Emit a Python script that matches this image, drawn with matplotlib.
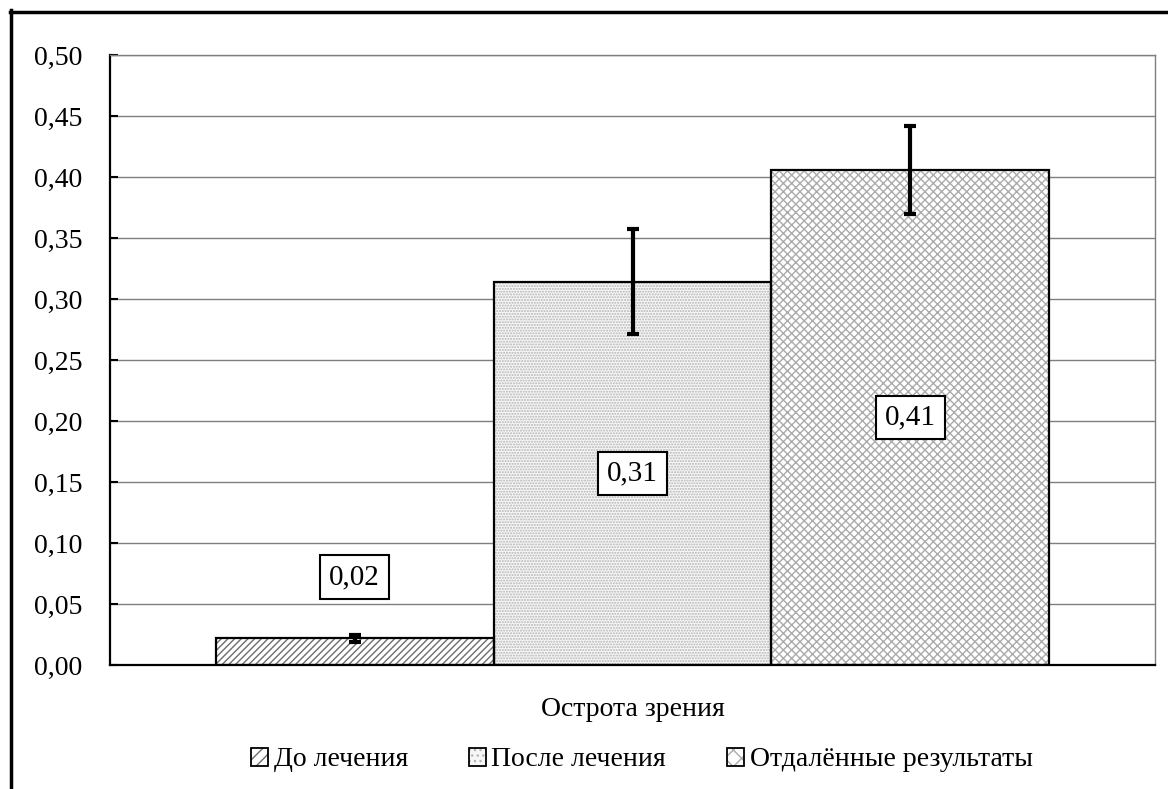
import matplotlib
matplotlib.use("Agg")
import matplotlib.pyplot as plt
from matplotlib.patches import Patch
from matplotlib.lines import Line2D
from matplotlib.legend_handler import HandlerTuple
import numpy as np

# Data
category = "Острота зрения"
series = ["До лечения", "После лечения", "Отдалённые результаты"]
values = [0.022, 0.314, 0.406]
errors = [0.003, 0.043, 0.036]
yticks = [0.00, 0.05, 0.10, 0.15, 0.20, 0.25, 0.30, 0.35, 0.40, 0.45, 0.50]

# Styles per series
hatches = ["/////", "......", "xxxx"]
hatch_colors = ["#6e6e6e", "#b4b4b4", "#ababab"]
face_colors = ["white", "#f7f7f7", "white"]

plt.rcParams["font.family"] = ["Liberation Serif", "DejaVu Serif"]
plt.rcParams["hatch.linewidth"] = 1.0
FS = 20

fig = plt.figure(figsize=(11.68, 7.89), dpi=100)
W, H = 1168, 789
ax = fig.add_axes([110 / W, 1 - 665 / H, (1155 - 110) / W, (665 - 55) / H])

width = 0.266
offsets = (np.arange(len(series)) - 1) * width

for i, name in enumerate(series):
    x = offsets[i]
    # hatched fill
    ax.bar(x, values[i], width=width, color=face_colors[i], edgecolor=hatch_colors[i],
           hatch=hatches[i], linewidth=0, zorder=2)
    # outline
    ax.bar(x, values[i], width=width, color="none", edgecolor="black",
           linewidth=1.6, zorder=3)
    ax.errorbar(x, values[i], yerr=errors[i], fmt="none", ecolor="black",
                elinewidth=3.0, capsize=4, capthick=3.0, zorder=4)

# Value labels
label_y = [values[0] + 0.05, values[1] / 2, values[2] / 2]
for i in range(len(series)):
    txt = f"{values[i]:.2f}".replace(".", ",")
    ax.text(offsets[i], label_y[i], txt, ha="center", va="center", fontsize=FS + 1,
            zorder=5,
            bbox=dict(boxstyle="square,pad=0.3", facecolor="white",
                      edgecolor="black", linewidth=1.5))

ax.set_xlim(-0.5, 0.5)
ax.set_ylim(0, 0.5)
ax.set_yticks(yticks)
ax.set_yticklabels([f"{t:.2f}".replace(".", ",") for t in yticks], fontsize=FS)
ax.set_xticks([])
ax.tick_params(axis="y", direction="in", length=6, width=1.5, pad=20, colors="black")
ax.grid(axis="y", color="#7f7f7f", linewidth=1.0)
ax.set_axisbelow(True)

ax.spines["left"].set_color("black")
ax.spines["left"].set_linewidth(1.6)
ax.spines["bottom"].set_color("black")
ax.spines["bottom"].set_linewidth(1.6)
ax.spines["top"].set_color("#7f7f7f")
ax.spines["top"].set_linewidth(1.0)
ax.spines["right"].set_color("#7f7f7f")
ax.spines["right"].set_linewidth(1.0)

ax.set_xlabel(category, fontsize=FS, labelpad=23)

# Legend
handles = []
legend_hatches = ["///", "...", "xx"]
for i in range(len(series)):
    handles.append((Patch(facecolor=face_colors[i], edgecolor=hatch_colors[i],
                          hatch=legend_hatches[i], linewidth=0),
                    Patch(facecolor="none", edgecolor="black", linewidth=1.3)))
fig.legend(handles, series, loc="center", bbox_to_anchor=(642 / W, 1 - 760 / H),
           ncol=3, frameon=False, fontsize=FS, handlelength=0.6, handleheight=0.6,
           handletextpad=0.2, columnspacing=2.2,
           handler_map={tuple: HandlerTuple(ndivide=1, pad=0)})

# Outer chart frame (top and left edges)
fig.add_artist(Line2D([10 / W, 1.0], [1 - 11.5 / H, 1 - 11.5 / H],
                      transform=fig.transFigure, color="black", linewidth=2.5))
fig.add_artist(Line2D([10.5 / W, 10.5 / W], [0.0, 1 - 10 / H],
                      transform=fig.transFigure, color="black", linewidth=2.5))

fig.savefig("out.png", dpi=100)
